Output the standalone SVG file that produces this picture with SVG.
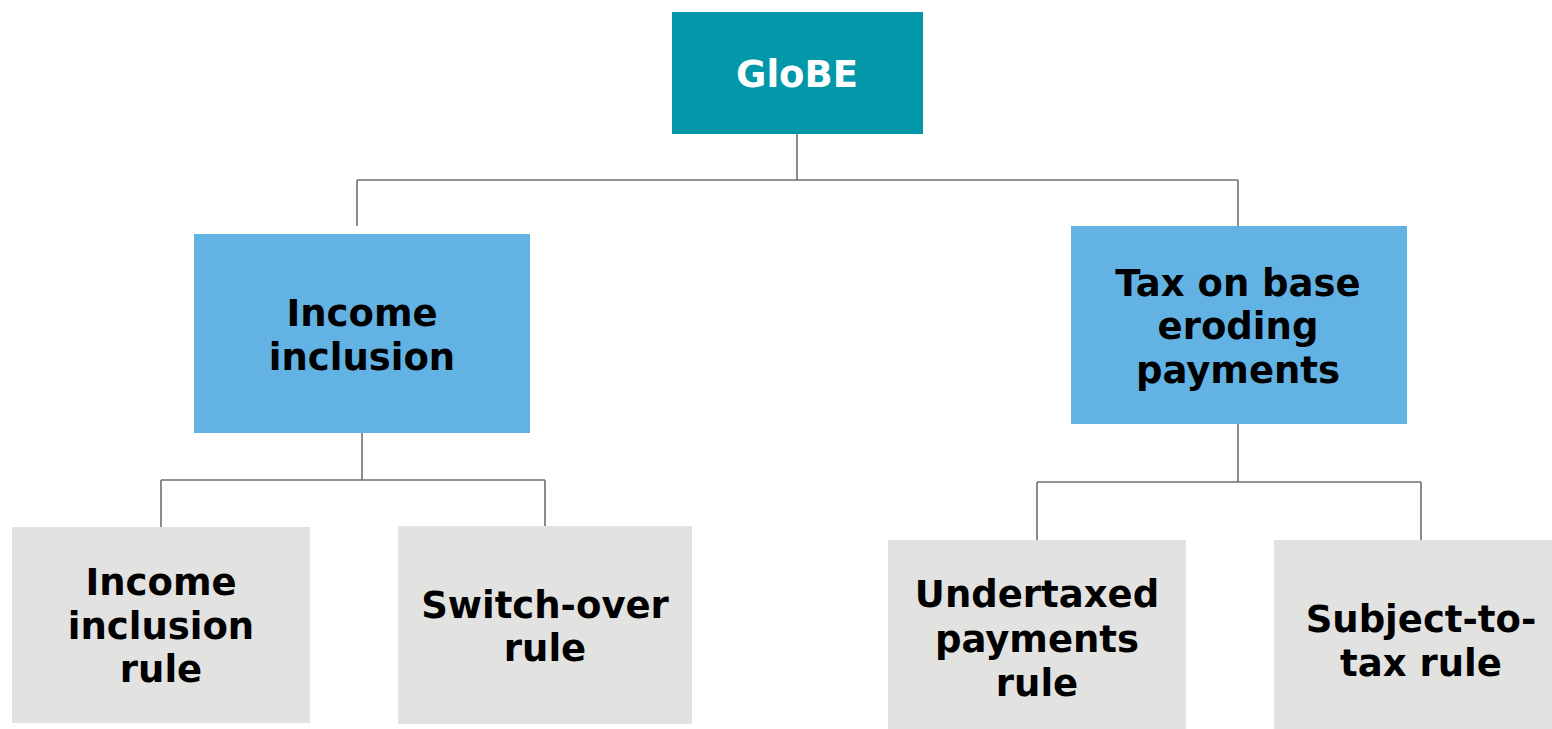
<svg xmlns="http://www.w3.org/2000/svg" width="1552" height="729" viewBox="0 0 1552 729">
<style>
.t{font-family:"DejaVu Sans","Verdana",sans-serif;font-weight:bold;font-size:37px;text-anchor:middle}
.w{fill:#ffffff}
.k{fill:#000000}
.top{fill:#0398A9}
.mid{fill:#62B3E4}
.leaf{fill:#E2E2E0}
.c{fill:none;stroke:#707070;stroke-width:1.6}
</style>
<rect width="1552" height="729" fill="#ffffff"/>
<g id="connectors">
<path class="c" d="M797 134V180M357 180H1238M357 180V226M1238 180V226"/>
<path class="c" d="M362 433V480M161 480H545M161 480V527M545 480V526"/>
<path class="c" d="M1238 424V482M1037 482H1421M1037 482V540M1421 482V540"/>
</g>
<g id="globe">
<rect class="top" x="672" y="12" width="251" height="122"/>
<text class="t w" x="797" y="87">GloBE</text>
</g>
<g id="income-inclusion">
<rect class="mid" x="194" y="234" width="336" height="199"/>
<text class="t k" x="362" y="326">Income</text>
<text class="t k" x="362" y="370">inclusion</text>
</g>
<g id="tax-base-eroding">
<rect class="mid" x="1071" y="226" width="336" height="198"/>
<text class="t k" x="1238" y="296">Tax on base</text>
<text class="t k" x="1238" y="339">eroding</text>
<text class="t k" x="1238" y="383">payments</text>
</g>
<g id="income-inclusion-rule">
<rect class="leaf" x="12" y="527" width="298" height="196"/>
<text class="t k" x="161" y="595">Income</text>
<text class="t k" x="161" y="639">inclusion</text>
<text class="t k" x="161" y="682">rule</text>
</g>
<g id="switch-over-rule">
<rect class="leaf" x="398" y="526" width="294" height="198"/>
<text class="t k" x="545" y="618">Switch-over</text>
<text class="t k" x="545" y="661">rule</text>
</g>
<g id="undertaxed-payments-rule">
<rect class="leaf" x="888" y="540" width="298" height="189"/>
<text class="t k" x="1037" y="607">Undertaxed</text>
<text class="t k" x="1037" y="652">payments</text>
<text class="t k" x="1037" y="696">rule</text>
</g>
<g id="subject-to-tax-rule">
<rect class="leaf" x="1274" y="540" width="278" height="189"/>
<text class="t k" x="1421" y="632">Subject-to-</text>
<text class="t k" x="1421" y="676">tax rule</text>
</g>
</svg>
